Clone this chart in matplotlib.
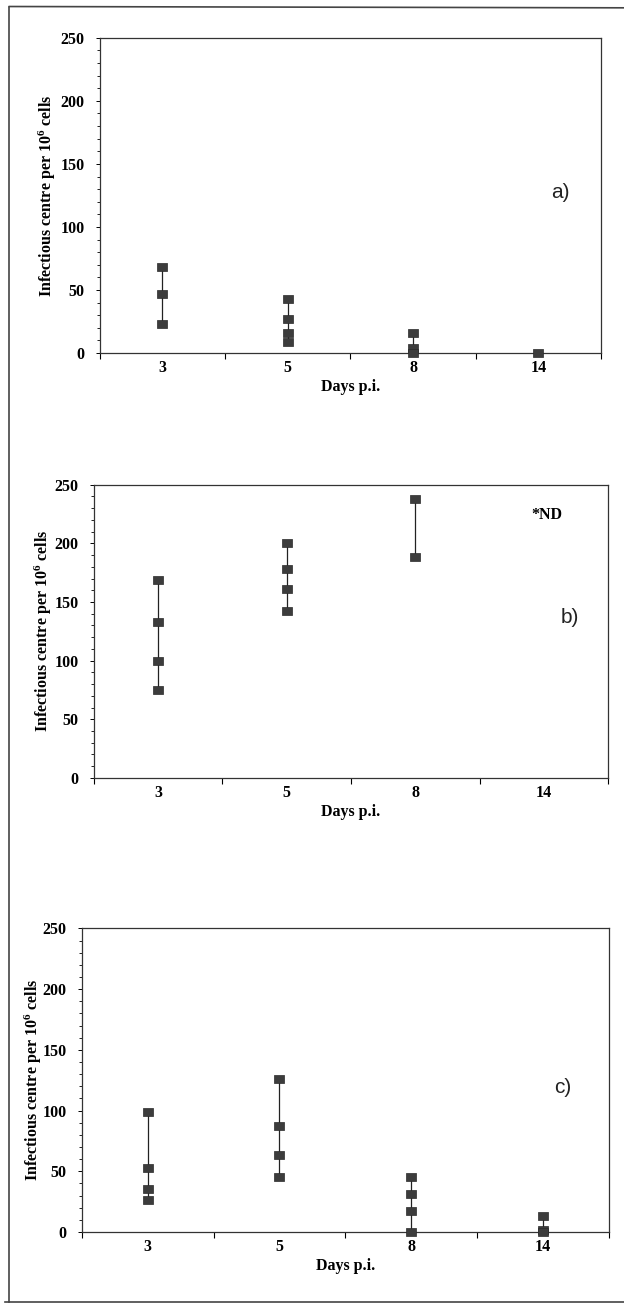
import matplotlib.pyplot as plt
from matplotlib.lines import Line2D
from matplotlib.path import Path
from matplotlib.ticker import MultipleLocator

plt.rcParams['font.family'] = ['Liberation Serif', 'DejaVu Serif']
plt.rcParams['mathtext.fontset'] = 'custom'
plt.rcParams['mathtext.rm'] = 'Liberation Serif:bold'
plt.rcParams['mathtext.bf'] = 'Liberation Serif:bold'
plt.rcParams['mathtext.default'] = 'bf'

days = ["3", "5", "8", "14"]

# infectious centres per 10^6 cells, one list per day (empty = not done)
panel_a = [[68, 47, 23], [43, 27, 16, 9], [16, 4, 0], [0]]
panel_b = [[169, 133, 100, 75], [200, 178, 161, 142], [238, 188], []]
panel_c = [[99, 53, 35, 26], [126, 87, 63, 45], [45, 31, 17, 0], [13, 2, 0]]

panel_labels = ["a)", "b)", "c)"]
ylabel = "Infectious centre per 10$^{6}$ cells"

# axes boxes in figure fraction [left, bottom, width, height]
boxes = [[0.160, 0.729, 0.803, 0.242],
         [0.150, 0.403, 0.825, 0.225],
         [0.131, 0.0545, 0.845, 0.233]]
label_pos = [(3.68, 127), (3.7, 137), (3.65, 119)]
ypads = [2, 0, -1]

rect = Path([(-1, -0.68), (1, -0.68), (1, 0.68), (-1, 0.68), (-1, -0.68)],
            [Path.MOVETO, Path.LINETO, Path.LINETO, Path.LINETO, Path.CLOSEPOLY])

fs = 11.5

fig = plt.figure(figsize=(6.24, 13.03), dpi=100)

for data, box, lab, lpos, ypad in zip([panel_a, panel_b, panel_c], boxes,
                                      panel_labels, label_pos, ypads):
    ax = fig.add_axes(box)
    for i, vals in enumerate(data):
        if not vals:
            continue
        x = i + 0.5
        ax.vlines(x, min(vals), max(vals), color="#222222", lw=0.9, zorder=2)
        ax.plot([x] * len(vals), vals, linestyle="none", marker=rect,
                markersize=7.5, color="#3c3c3c", mec="#2a2a2a", mew=0.5,
                clip_on=False, zorder=3)

    ax.set_xlim(0, 4)
    ax.set_ylim(0, 250)
    ax.set_xticks([0.5, 1.5, 2.5, 3.5])
    ax.set_xticklabels(days, fontweight="bold", fontsize=fs)
    ax.set_xticks([0, 1, 2, 3, 4], minor=True)
    ax.tick_params(axis="x", which="major", length=0, pad=5)
    ax.tick_params(axis="x", which="minor", length=4, direction="out", width=0.8)

    ax.yaxis.set_major_locator(MultipleLocator(50))
    ax.yaxis.set_minor_locator(MultipleLocator(10))
    ax.tick_params(axis="y", which="major", length=3, width=0.7, pad=8)
    ax.tick_params(axis="y", which="minor", length=2, width=0.6)
    for t in ax.get_yticklabels():
        t.set_fontweight("bold")
        t.set_fontsize(fs)

    for s in ax.spines.values():
        s.set_linewidth(0.9)
        s.set_color("#333333")

    ax.set_xlabel("Days p.i.", fontweight="bold", fontsize=fs, labelpad=2)
    ax.set_ylabel(ylabel, fontweight="bold", fontsize=fs, labelpad=ypad)

    ax.text(lpos[0], lpos[1], lab, fontsize=15, family="Liberation Sans",
            ha="center", va="center", color="#222222")

# *ND note in panel b
fig.axes[1].text(3.52, 224, "*ND", fontsize=fs, fontweight="bold",
                 ha="center", va="center")

# page border from the scanned figure
for xs, ys in [([0.015, 0.015], [0.001, 0.995]),
               ([0.015, 1.0], [0.995, 0.994]),
               ([0.008, 1.0], [0.001, 0.001])]:
    fig.add_artist(Line2D(xs, ys, color="#444444", lw=1.2))

plt.savefig("out.png", dpi=100)
